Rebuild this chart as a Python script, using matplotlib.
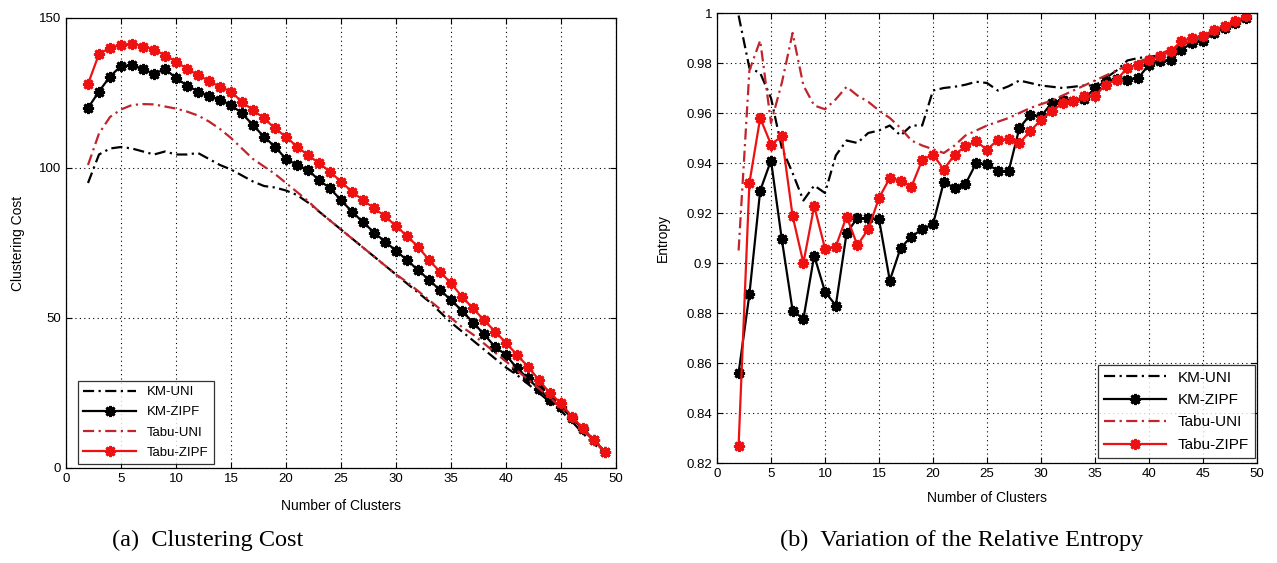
import numpy as np
import matplotlib
matplotlib.use("Agg")
import matplotlib.pyplot as plt

# Number of clusters on the x axis
clusters = list(range(2, 50))

# (a) Clustering cost per method
km_uni_cost = [95, 104.5, 106.5, 107, 106.5, 105.5, 104.5, 105.5, 104.5, 104.5,
               105, 103, 101, 99.5, 97.5, 95.5, 94, 93.5, 92.5, 91,
               88.5, 85.5, 82.5, 79.5, 76.5, 73.5, 70.5, 67.5, 64.5, 61.5,
               58.5, 55.5, 52, 48.5, 45.5, 42.5, 39.5, 36.5, 33.5, 31,
               28, 25, 22, 19, 15.5, 11.5, 8, 5]
km_zipf_cost = [120, 125.5, 130.5, 134, 134.3, 133, 131.3, 133, 130, 127.5,
                125.5, 124, 122.7, 121, 118.2, 114.3, 110.4, 107.1, 103, 101,
                99.3, 96, 93.2, 89.3, 85.4, 82, 78.5, 75.5, 72.4, 69.3,
                66, 62.7, 59.3, 56, 52.4, 48.5, 44.6, 40.4, 37.7, 33.2,
                29.9, 26.2, 22.7, 20.4, 16.6, 13, 9.3, 5.4]
tabu_uni_cost = [101, 111.5, 117, 119.5, 121, 121.3, 121.2, 120.5, 119.8, 118.8,
                 117.5, 115.5, 113, 110, 106.5, 103, 100.5, 98, 95, 92,
                 89, 85.5, 82.5, 79.5, 76.5, 73.5, 70.5, 67.5, 64.5, 62,
                 59, 56, 53, 50, 47, 44.5, 41.5, 38.5, 35.5, 32.5,
                 29.5, 26.5, 23.5, 20, 16.5, 12.5, 9, 5]
tabu_zipf_cost = [128, 138, 140, 141, 141.5, 140.5, 139.5, 137.5, 135.5, 133,
                  131, 129, 127, 125.5, 122, 119.3, 116.6, 113.2, 110.4, 107.1,
                  104.3, 101.6, 98.8, 95.4, 92.1, 89.3, 86.6, 83.9, 80.7, 77.3,
                  73.8, 69.3, 65.4, 61.6, 57.1, 53.2, 49.3, 45.5, 41.7, 37.7,
                  33.8, 29.3, 24.9, 21.6, 17.1, 13.2, 9.3, 5.4]

# (b) Relative entropy per method
km_uni_ent = [0.999, 0.978, 0.976, 0.966, 0.946, 0.936, 0.925, 0.931, 0.928, 0.943,
              0.949, 0.948, 0.952, 0.953, 0.955, 0.951, 0.955, 0.955, 0.969, 0.970,
              0.9705, 0.9713, 0.9725, 0.972, 0.969, 0.9707, 0.973, 0.972, 0.971, 0.9705,
              0.970, 0.9705, 0.971, 0.971, 0.974, 0.977, 0.981, 0.982, 0.9825, 0.983,
              0.985, 0.987, 0.989, 0.990, 0.992, 0.994, 0.996, 0.998]
km_zipf_ent = [0.856, 0.8875, 0.929, 0.941, 0.9095, 0.881, 0.8776, 0.903, 0.8885, 0.883,
               0.912, 0.918, 0.918, 0.9175, 0.893, 0.906, 0.9106, 0.9135, 0.9155, 0.9324,
               0.930, 0.9315, 0.940, 0.9395, 0.937, 0.9367, 0.954, 0.9593, 0.9587, 0.964,
               0.9653, 0.9647, 0.9655, 0.970, 0.9727, 0.9735, 0.9733, 0.974, 0.9793, 0.9807,
               0.9813, 0.9853, 0.988, 0.9887, 0.992, 0.994, 0.996, 0.998]
tabu_uni_ent = [0.905, 0.977, 0.989, 0.956, 0.972, 0.992, 0.971, 0.963, 0.9615, 0.9655,
                0.9705, 0.967, 0.9645, 0.961, 0.958, 0.954, 0.949, 0.947, 0.9455, 0.944,
                0.947, 0.951, 0.953, 0.955, 0.9565, 0.958, 0.960, 0.962, 0.9635, 0.965,
                0.967, 0.969, 0.971, 0.973, 0.975, 0.977, 0.979, 0.9805, 0.982, 0.9835,
                0.9855, 0.987, 0.989, 0.9905, 0.9925, 0.9945, 0.9965, 0.9985]
tabu_zipf_ent = [0.827, 0.932, 0.958, 0.9474, 0.9507, 0.9188, 0.900, 0.9228, 0.9058, 0.9066,
                 0.9186, 0.9071, 0.9135, 0.926, 0.934, 0.9328, 0.9305, 0.9412, 0.9434, 0.9374,
                 0.9433, 0.9467, 0.9487, 0.9453, 0.9493, 0.9496, 0.948, 0.9527, 0.9573, 0.9607,
                 0.964, 0.9647, 0.9667, 0.967, 0.9713, 0.9733, 0.978, 0.9793, 0.9813, 0.9827,
                 0.9847, 0.9887, 0.99, 0.9907, 0.9933, 0.9947, 0.9967, 0.9987]

series_labels = ["KM-UNI", "KM-ZIPF", "Tabu-UNI", "Tabu-ZIPF"]
x_ticks = list(range(0, 51, 5))
cost_ticks = [0, 50, 100, 150]
ent_ticks = [0.82, 0.84, 0.86, 0.88, 0.9, 0.92, 0.94, 0.96, 0.98, 1.0]
ent_tick_labels = ["0.82", "0.84", "0.86", "0.88", "0.9", "0.92", "0.94", "0.96", "0.98", "1"]

plt.rcParams["font.family"] = ["Liberation Sans", "DejaVu Sans"]

RED = "#ee1111"
DARK_RED = "#c0242c"
star = (8, 2, 0)
dashdot = (0, (5, 2, 1, 2))

styles = [
    dict(color="black", ls=dashdot, lw=1.6),
    dict(color="black", ls="-", lw=1.6, marker=star, ms=8, mew=2.0),
    dict(color=DARK_RED, ls=dashdot, lw=1.6),
    dict(color=RED, ls="-", lw=1.6, marker=star, ms=8, mew=2.0),
]

fig = plt.figure(figsize=(12.77, 5.63), dpi=100)
ax1 = fig.add_axes([66 / 1277, 95 / 563, 550 / 1277, 450 / 563])
ax2 = fig.add_axes([717 / 1277, 100 / 563, 540 / 1277, 450 / 563])


def style_axes(ax, pad):
    ax.grid(True, ls=(0, (1, 3)), color="black", lw=0.8)
    ax.tick_params(direction="in", top=True, right=True, labelsize=9.5, length=4, width=0.8)
    for s in ax.spines.values():
        s.set_linewidth(0.9)
    ax.set_xlim(0, 50)
    ax.set_xticks(x_ticks)
    ax.set_xlabel("Number of Clusters", fontsize=10, labelpad=pad)


for data, lab, st in zip([km_uni_cost, km_zipf_cost, tabu_uni_cost, tabu_zipf_cost], series_labels, styles):
    ax1.plot(clusters, data, label=lab, **st)
style_axes(ax1, 10)
ax1.set_ylim(0, 150)
ax1.set_yticks(cost_ticks)
ax1.set_ylabel("Clustering Cost", fontsize=10, labelpad=10)
leg1 = ax1.legend(loc="lower left", bbox_to_anchor=(12 / 550, 4 / 450), borderaxespad=0,
                  fontsize=9.5, frameon=True, fancybox=False, edgecolor="black",
                  handlelength=4, labelspacing=0.6)
leg1.get_frame().set_linewidth(0.9)

for data, lab, st in zip([km_uni_ent, km_zipf_ent, tabu_uni_ent, tabu_zipf_ent], series_labels, styles):
    ax2.plot(clusters, data, label=lab, **st)
style_axes(ax2, 8)
ax2.set_ylim(0.82, 1.0)
ax2.set_yticks(ent_ticks)
ax2.set_yticklabels(ent_tick_labels)
ax2.set_ylabel("Entropy", fontsize=10, labelpad=12)
leg2 = ax2.legend(loc="lower right", bbox_to_anchor=(1 - 2 / 540, 5 / 450), borderaxespad=0,
                  fontsize=11, frameon=True, fancybox=False, edgecolor="black",
                  handlelength=4, labelspacing=0.55)
leg2.get_frame().set_linewidth(0.9)

fig.text(208 / 1277, 1 - 540 / 563, "(a)  Clustering Cost", ha="center", va="center",
         fontsize=17.5, family=["Liberation Serif", "DejaVu Serif"])
fig.text(962 / 1277, 1 - 540 / 563, "(b)  Variation of the Relative Entropy", ha="center", va="center",
         fontsize=17.5, family=["Liberation Serif", "DejaVu Serif"])

fig.savefig("out.png", dpi=100)
